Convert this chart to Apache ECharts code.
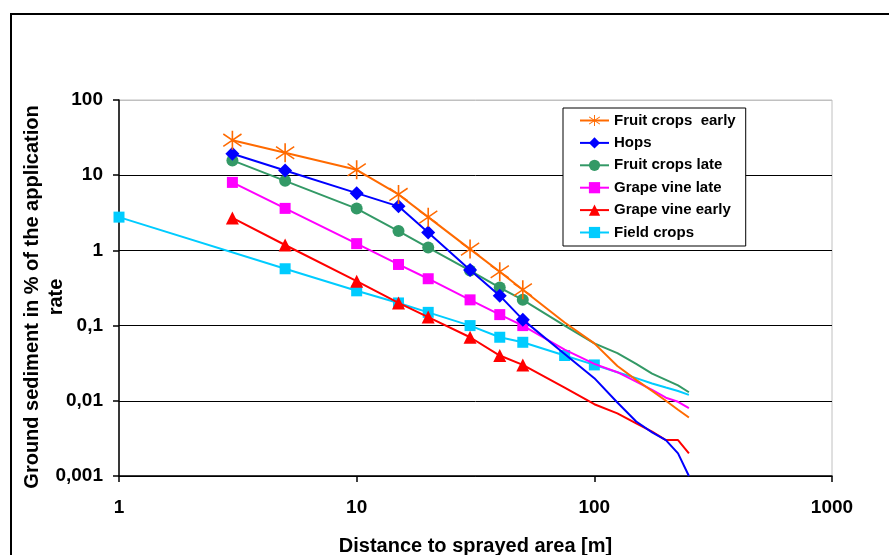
<!DOCTYPE html>
<html>
<head>
<meta charset="utf-8">
<script src="https://cdn.jsdelivr.net/npm/echarts@6/dist/echarts.min.js"></script>
<style>
  html, body { margin: 0; padding: 0; background: #fff; }
  #chart { width: 889px; height: 555px; }
</style>
</head>
<body>
<div id="chart"></div>
<script>
// Ground sediment (% of application rate) versus distance to the sprayed area.
const seriesNames = ['Fruit crops  early', 'Hops', 'Fruit crops late', 'Grape vine late', 'Grape vine early', 'Field crops'];

// Measured distances (m) shown with markers
const markedDistances = [3, 5, 10, 15, 20, 30, 40, 50];
const fieldMarkedDistances = [1, 5, 10, 15, 20, 30, 40, 50, 75, 100];
// Extrapolated distances (m) drawn as plain line
const tailDistances = [75, 100, 125, 150, 175, 200, 225, 250];
const fieldTailDistances = [125, 150, 175, 200, 225, 250];

const fruitEarly = [29.2, 19.89, 11.81, 5.55, 2.77, 1.04, 0.52, 0.30];
const fruitEarlyTail = [0.11, 0.058, 0.029, 0.019, 0.0135, 0.01, 0.0076, 0.006];

const hops = [19.33, 11.57, 5.77, 3.85, 1.73, 0.55, 0.25, 0.12];
const hopsTail = [0.042, 0.02, 0.0095, 0.0053, 0.0038, 0.003, 0.002, 0.001];

const fruitLate = [15.73, 8.41, 3.60, 1.81, 1.09, 0.54, 0.32, 0.22];
const fruitLateTail = [0.10, 0.058, 0.043, 0.031, 0.023, 0.019, 0.016, 0.013];

const grapeLate = [8.02, 3.62, 1.23, 0.65, 0.42, 0.22, 0.14, 0.10];
const grapeLateTail = [0.048, 0.031, 0.024, 0.018, 0.014, 0.011, 0.0097, 0.008];

const grapeEarly = [2.70, 1.18, 0.39, 0.20, 0.13, 0.07, 0.04, 0.03];
const grapeEarlyTail = [0.015, 0.009, 0.0068, 0.005, 0.0039, 0.003, 0.003, 0.002];

const fieldCrops = [2.77, 0.57, 0.29, 0.20, 0.15, 0.10, 0.07, 0.06, 0.04, 0.03];
const fieldCropsTail = [0.024, 0.02, 0.017, 0.015, 0.0135, 0.012];

const xTickLabels = ['1', '10', '100', '1000'];
const yTickLabels = ['0,001', '0,01', '0,1', '1', '10', '100'];

const colors = ['#FF6A00', '#0000FF', '#339966', '#FF00FF', '#FF0000', '#00CCFF'];

// six-armed asterisk marker
const starPath = 'path://M9.2 0 L10.8 0 L10.8 20 L9.2 20 Z M0.6 4.2 L1.4 2.8 L19.4 15.8 L18.6 17.2 Z M18.6 2.8 L19.4 4.2 L1.4 17.2 L0.6 15.8 Z';

function buildData(dist, vals, tDist, tVals) {
  const pts = dist.map((d, i) => ({ value: [d, vals[i]] }));
  tDist.forEach((d, i) => pts.push({ value: [d, tVals[i]], symbol: 'none' }));
  return pts;
}

const seriesSpecs = [
  { data: buildData(markedDistances, fruitEarly, tailDistances, fruitEarlyTail), symbol: starPath, size: 19 },
  { data: buildData(markedDistances, hops, tailDistances, hopsTail), symbol: 'diamond', size: 14 },
  { data: buildData(markedDistances, fruitLate, tailDistances, fruitLateTail), symbol: 'circle', size: 12 },
  { data: buildData(markedDistances, grapeLate, tailDistances, grapeLateTail), symbol: 'rect', size: 11 },
  { data: buildData(markedDistances, grapeEarly, tailDistances, grapeEarlyTail), symbol: 'triangle', size: 13 },
  { data: buildData(fieldMarkedDistances, fieldCrops, fieldTailDistances, fieldCropsTail), symbol: 'rect', size: 11 }
];

const font = 'Liberation Sans, Arial, sans-serif';

const chart = echarts.init(document.getElementById('chart'), null, { renderer: 'canvas' });

chart.setOption({
  animation: false,
  backgroundColor: '#fff',
  grid: {
    left: 119, right: 57, top: 100, bottom: 79,
    outerBoundsMode: 'none', containLabel: false,
    show: true, borderColor: '#c0c0c0', borderWidth: 1, backgroundColor: 'transparent'
  },
  legend: {
    orient: 'vertical',
    left: 563, top: 108,
    padding: [5, 10, 6, 16],
    itemWidth: 29, itemHeight: 14, itemGap: 7.4,
    backgroundColor: '#fff',
    borderColor: '#000', borderWidth: 1,
    textStyle: { fontFamily: font, fontWeight: 'bold', fontSize: 15, color: '#000' },
    data: seriesNames
  },
  xAxis: {
    type: 'log', logBase: 10, min: 1, max: 1000,
    name: 'Distance to sprayed area [m]',
    nameLocation: 'middle', nameGap: 60,
    nameTextStyle: { fontFamily: font, fontWeight: 'bold', fontSize: 20, color: '#000' },
    axisLine: { lineStyle: { color: '#000', width: 1.5 } },
    axisTick: { show: true, inside: false, length: 6, lineStyle: { color: '#000', width: 1.5 } },
    minorTick: { show: false },
    splitLine: { show: false },
    axisLabel: {
      margin: 22, fontFamily: font, fontWeight: 'bold', fontSize: 19, color: '#000',
      formatter: v => xTickLabels[Math.round(Math.log10(v))]
    }
  },
  yAxis: {
    type: 'log', logBase: 10, min: 0.001, max: 100,
    axisLine: { show: true, lineStyle: { color: '#000', width: 1.5 } },
    axisTick: { show: true, inside: false, length: 6, lineStyle: { color: '#000', width: 1.5 } },
    minorTick: { show: false },
    splitLine: { show: true, lineStyle: { color: ['#000', '#000', '#000', '#000', '#000', '#c0c0c0'], width: 1 } },
    axisLabel: {
      margin: 16, fontFamily: font, fontWeight: 'bold', fontSize: 19, color: '#000',
      formatter: v => yTickLabels[Math.round(Math.log10(v)) + 3]
    }
  },
  graphic: [
    {
      type: 'rect', z: -10, silent: true,
      shape: { x: 11, y: 14, width: 900, height: 600 },
      style: { fill: 'none', stroke: '#000', lineWidth: 2 }
    },
    {
      type: 'text', x: 44, y: 297, rotation: Math.PI / 2,
      style: {
        text: 'Ground sediment in % of the application\nrate',
        fontFamily: font, fontWeight: 'bold', fontSize: 20, fill: '#000',
        align: 'center', verticalAlign: 'middle', lineHeight: 24
      }
    }
  ],
  series: seriesSpecs.map((s, i) => ({
    name: seriesNames[i],
    type: 'line',
    data: s.data,
    symbol: s.symbol,
    symbolSize: s.size,
    showAllSymbol: true,
    color: colors[i],
    lineStyle: { color: colors[i], width: 2 },
    itemStyle: { color: colors[i] },
    emphasis: { disabled: true },
    z: 10 - i
  }))
});
</script>
</body>
</html>
